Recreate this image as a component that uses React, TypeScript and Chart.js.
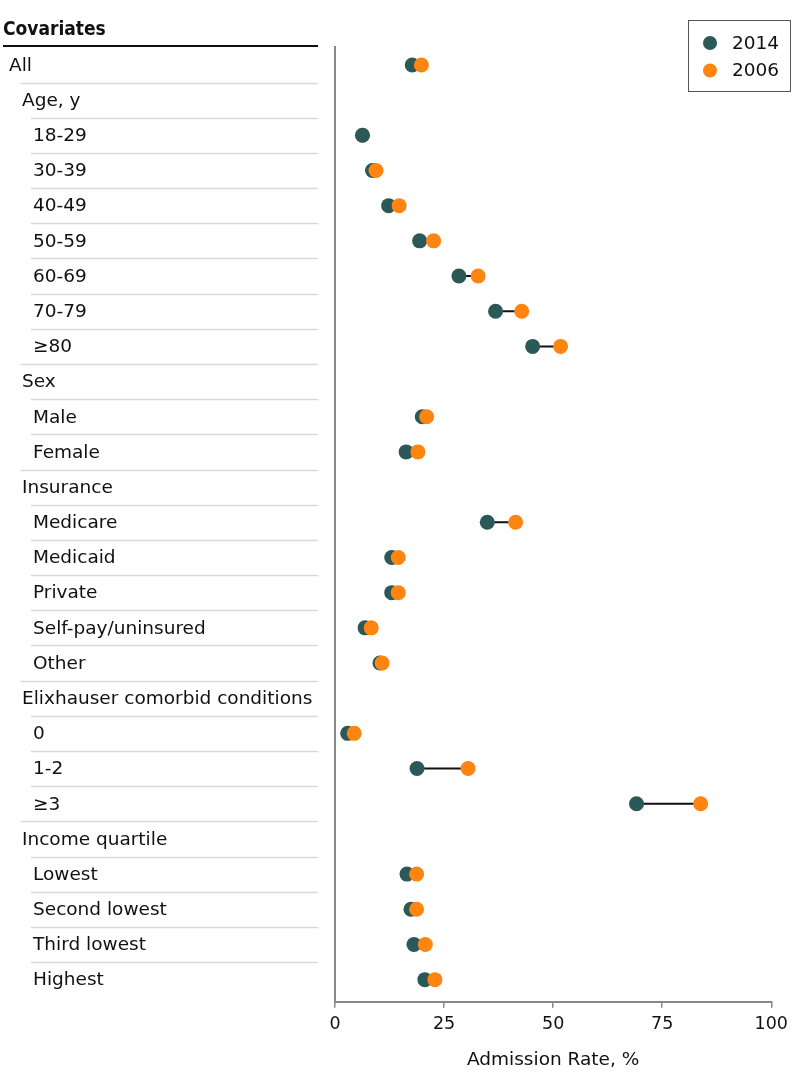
import React, { useEffect, useRef } from "react";
import { Chart, registerables } from "chart.js";

Chart.register(...registerables);

const rowLabels = [
  "All", "Age, y", "18-29", "30-39", "40-49", "50-59", "60-69", "70-79", "≥80",
  "Sex", "Male", "Female",
  "Insurance", "Medicare", "Medicaid", "Private", "Self-pay/uninsured", "Other",
  "Elixhauser comorbid conditions", "0", "1-2", "≥3",
  "Income quartile", "Lowest", "Second lowest", "Third lowest", "Highest",
];
const rowLevels = [0, 1, 2, 2, 2, 2, 2, 2, 2, 1, 2, 2, 1, 2, 2, 2, 2, 2, 1, 2, 2, 2, 1, 2, 2, 2, 2];
const rate2014 = [17.7, null, 6.3, 8.6, 12.3, 19.4, 28.4, 36.8, 45.3, null, 20.0, 16.3, null, 34.9, 13.0, 13.0, 6.9, 10.3, null, 2.9, 18.8, 69.1, null, 16.5, 17.4, 18.1, 20.6];
const rate2006 = [19.8, null, 6.3, 9.4, 14.7, 22.6, 32.8, 42.8, 51.7, null, 21.0, 19.0, null, 41.4, 14.5, 14.5, 8.3, 10.8, null, 4.4, 30.5, 83.8, null, 18.7, 18.7, 20.7, 22.9];
const xTicks = [0, 25, 50, 75, 100];
const seriesNames = ["2014", "2006"];

const TEAL = "#2a5957";
const ORANGE = "#ff8410";
const FONT = '"DejaVu Sans", sans-serif';

const tablePlugin = {
  id: "covTable",
  afterDraw(chart: any) {
    const ctx = chart.ctx as CanvasRenderingContext2D;
    const ys = chart.scales.y;
    ctx.save();
    // header
    ctx.fillStyle = "#111";
    ctx.font = `bold 19px "DejaVu Sans Condensed", ${FONT}`;
    ctx.textBaseline = "middle";
    ctx.textAlign = "left";
    ctx.fillText("Covariates", 3, 30);
    ctx.strokeStyle = "#111";
    ctx.lineWidth = 2;
    ctx.beginPath();
    ctx.moveTo(3, 46);
    ctx.lineTo(318, 46);
    ctx.stroke();

    const indent = [9, 22, 33];
    const sepStart = [9, 20.5, 31];
    ctx.font = `18.5px ${FONT}`;
    rowLabels.forEach((lab, i) => {
      const py = ys.getPixelForValue(i);
      ctx.fillStyle = "#111";
      ctx.fillText(lab, indent[rowLevels[i]], py + 1);
      if (i < rowLabels.length - 1) {
        const sy = Math.round(ys.getPixelForValue(i + 0.5)) + 0.5;
        ctx.strokeStyle = "#d9d9d2";
        ctx.lineWidth = 1.5;
        ctx.beginPath();
        ctx.moveTo(sepStart[rowLevels[i + 1]], sy);
        ctx.lineTo(318, sy);
        ctx.stroke();
      }
    });

    // legend box
    ctx.strokeStyle = "#555";
    ctx.lineWidth = 1;
    ctx.strokeRect(688.5, 20.5, 102, 71);
    const colors = [TEAL, ORANGE];
    seriesNames.forEach((name, k) => {
      const cy = 43 + k * 27.5;
      ctx.fillStyle = colors[k];
      ctx.beginPath();
      ctx.arc(710, cy, 7, 0, Math.PI * 2);
      ctx.fill();
      ctx.fillStyle = "#111";
      ctx.font = `18.5px ${FONT}`;
      ctx.fillText(name, 732, cy + 1);
    });
    ctx.restore();
  },
};

export default function App() {
  const ref = useRef<HTMLCanvasElement | null>(null);
  useEffect(() => {
    document.body.style.margin = "0";
    const connectors: any[] = [];
    const p2014: any[] = [];
    const p2006front: any[] = [];
    const p2006back: any[] = [];
    rowLabels.forEach((_, i) => {
      const a = rate2014[i];
      const b = rate2006[i];
      if (a != null && b != null) {
        connectors.push({ x: a, y: i }, { x: b, y: i }, { x: NaN, y: NaN });
      }
      if (a != null) p2014.push({ x: a, y: i });
      if (b != null) {
        if (a != null && b <= a) p2006back.push({ x: b, y: i });
        else p2006front.push({ x: b, y: i });
      }
    });
    const pointOpts = { pointRadius: 7.5, pointHoverRadius: 7.5, pointBorderWidth: 0, showLine: false };
    const chart = new Chart(ref.current!, {
      type: "scatter",
      data: {
        datasets: [
          { label: "connector", data: connectors, showLine: true, borderColor: "#111", borderWidth: 2, pointRadius: 0, pointHoverRadius: 0, spanGaps: false, order: 4 } as any,
          { label: seriesNames[1] + " behind", data: p2006back, backgroundColor: ORANGE, pointBackgroundColor: ORANGE, ...pointOpts, order: 3 },
          { label: seriesNames[0], data: p2014, backgroundColor: TEAL, pointBackgroundColor: TEAL, ...pointOpts, order: 2 },
          { label: seriesNames[1], data: p2006front, backgroundColor: ORANGE, pointBackgroundColor: ORANGE, ...pointOpts, order: 1 },
        ],
      },
      options: {
        animation: false,
        responsive: false,
        events: [],
        layout: { padding: { left: 335, top: 47, right: 20, bottom: 17 } },
        plugins: { legend: { display: false }, tooltip: { enabled: false } },
        scales: {
          x: {
            type: "linear",
            min: 0,
            max: 100,
            afterBuildTicks: (s: any) => { s.ticks = xTicks.map((v) => ({ value: v })); },
            grid: { drawOnChartArea: false, drawTicks: true, tickLength: 6, color: "#888", lineWidth: 1.5 },
            border: { display: true, color: "#888", width: 2 },
            ticks: { color: "#111", font: { family: FONT, size: 17.5 }, padding: 6, maxRotation: 0 },
            title: { display: true, text: "Admission Rate, %", color: "#111", font: { family: FONT, size: 18.5 }, padding: { top: 8, bottom: 0 } },
          },
          y: {
            type: "linear",
            reverse: true,
            min: -0.51,
            max: 26.63,
            grid: { display: false, drawTicks: false },
            border: { display: true, color: "#888", width: 2 },
            ticks: { display: false },
          },
        },
      },
      plugins: [tablePlugin],
    } as any);
    return () => chart.destroy();
  }, []);
  return (
    <div style={{ width: 794, height: 1088 }}>
      <canvas ref={ref} width={794} height={1088} style={{ display: "block" }} />
    </div>
  );
}
